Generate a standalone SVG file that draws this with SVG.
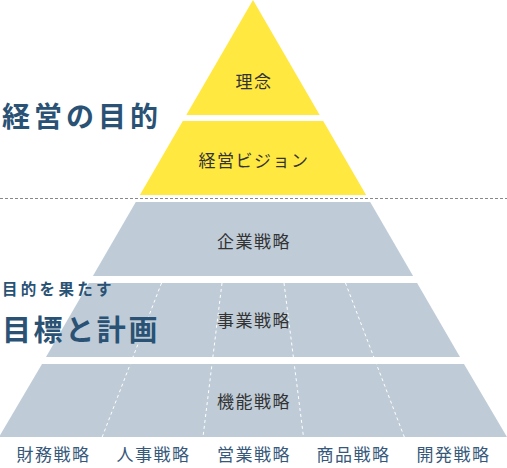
<svg xmlns="http://www.w3.org/2000/svg" width="507" height="468" viewBox="0 0 507 468">
<style>
.y{fill:#FFE840}
.g{fill:#BFCCD8}
.t{font-family:"Noto Sans CJK JP","Noto Sans",sans-serif;font-size:17px;fill:#333;text-anchor:middle;letter-spacing:1.5px}
.b{font-family:"Noto Sans CJK JP","Noto Sans",sans-serif;font-size:17px;fill:#36587A;text-anchor:middle;letter-spacing:1.5px}
.h{font-family:"Noto Sans CJK JP","Noto Sans",sans-serif;font-weight:bold;fill:#2A5274}
.d{stroke:#fff;stroke-width:1;stroke-dasharray:3 3;fill:none}
</style>
<g id="rinen"><polygon class="y" points="253,0 319.7,115 186.3,115"/><text class="t" x="254" y="88">理念</text></g>
<g id="vision"><polygon class="y" points="182.8,121 323.2,121 366.1,195 139.9,195"/><text class="t" x="254" y="167">経営ビジョン</text></g>
<g id="kigyo"><polygon class="g" points="135.8,202 370.2,202 413.1,276 92.9,276"/><text class="t" x="254" y="248">企業戦略</text></g>
<g id="jigyo"><polygon class="g" points="88.9,283 417.1,283 460,357 46,357"/><text class="t" x="254" y="327">事業戦略</text></g>
<g id="kino"><polygon class="g" points="42,364 464,364 507,437 -1,437"/><text class="t" x="254" y="408">機能戦略</text></g>
<g id="connectors">
<line x1="0" y1="198.5" x2="507" y2="198.5" stroke="#888" stroke-width="1" stroke-dasharray="3 2"/>
<line class="d" x1="161.5" y1="283" x2="102.2" y2="437"/>
<line class="d" x1="222" y1="283" x2="203" y2="437"/>
<line class="d" x1="284" y1="283" x2="303.5" y2="437"/>
<line class="d" x1="345.5" y1="283" x2="404.3" y2="437"/>
</g>
<g id="labels">
<text class="h" x="2" y="127" font-size="28" letter-spacing="4">経営の目的</text>
<text class="h" x="2" y="295" font-size="15.5" letter-spacing="3.3">目的を果たす</text>
<text class="h" x="2" y="341" font-size="29" letter-spacing="2.6">目標と計画</text>
</g>
<g id="functions">
<text class="b" x="53.5" y="461">財務戦略</text>
<text class="b" x="153.5" y="461">人事戦略</text>
<text class="b" x="254" y="461">営業戦略</text>
<text class="b" x="353.5" y="461">商品戦略</text>
<text class="b" x="453.5" y="461">開発戦略</text>
</g>
</svg>
